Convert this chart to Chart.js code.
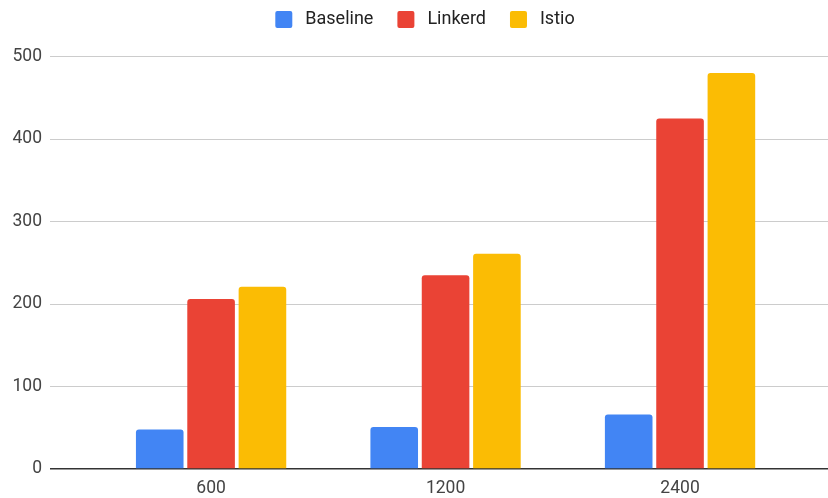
<!DOCTYPE html>
<html>
<head>
<meta charset="utf-8">
<script src="https://cdn.jsdelivr.net/npm/chart.js@4.4.0/dist/chart.umd.min.js"></script>
<style>
  html, body { margin: 0; padding: 0; background: #ffffff; }
  #wrap { width: 828px; height: 498px; position: relative; }
</style>
</head>
<body>
<div id="wrap"><canvas id="c"></canvas></div>
<script>
const categories = ['600', '1200', '2400'];
const baseline = [48, 51, 66];
const linkerd = [206, 235, 425];
const istio = [221, 261, 480];
const seriesNames = ['Baseline', 'Linkerd', 'Istio'];
const yTicks = [0, 100, 200, 300, 400, 500];

const colors = ['#4285F4', '#EA4335', '#FBBC04'];
const toPoints = arr => arr.map((v, i) => ({ x: i, y: v }));

const FONT = 'Roboto, "Noto Sans", Arial, sans-serif';

const legendShift = {
  id: 'legendShift',
  afterLayout(chart) {
    const l = chart.legend;
    if (!l) return;
    l.top -= 14.5; l.bottom -= 14.5;
    l.left += 9; l.right += 9;
  }
};

new Chart(document.getElementById('c'), {
  type: 'bar',
  plugins: [legendShift],
  data: {
    datasets: [baseline, linkerd, istio].map((arr, k) => ({
      label: seriesNames[k],
      data: toPoints(arr),
      backgroundColor: colors[k],
      borderWidth: 0,
      borderRadius: { topLeft: 3, topRight: 3, bottomLeft: 0, bottomRight: 0 },
      borderSkipped: 'bottom',
      categoryPercentage: 0.657,
      barPercentage: 0.927
    }))
  },
  options: {
    responsive: true,
    maintainAspectRatio: false,
    animation: false,
    devicePixelRatio: 1,
    layout: { padding: 0 },
    plugins: {
      tooltip: { enabled: false },
      legend: {
        position: 'top',
        align: 'center',
        labels: {
          boxWidth: 25,
          boxHeight: 25,
          padding: 20,
          color: '#222',
          font: { family: FONT, size: 18 },
          useBorderRadius: true,
          borderRadius: 6,
          generateLabels: chart => {
            const items = Chart.defaults.plugins.legend.labels.generateLabels(chart);
            return items.map(it => Object.assign(it, { strokeStyle: '#ffffff', lineWidth: 8 }));
          }
        }
      }
    },
    scales: {
      x: {
        type: 'linear',
        offset: false,
        min: -0.687,
        max: 2.631,
        afterBuildTicks: s => { s.ticks = categories.map((c, i) => ({ value: i })); },
        afterFit: s => { s.height = 29; s.paddingLeft = 0; s.paddingRight = 0; },
        ticks: {
          autoSkip: false,
          maxRotation: 0,
          padding: 9,
          color: '#444',
          font: { family: FONT, size: 17.5 },
          callback: v => categories[v]
        },
        grid: { display: false, drawTicks: false },
        border: { display: false }
      },
      y: {
        min: 0,
        max: 500,
        afterBuildTicks: s => { s.ticks = yTicks.map(v => ({ value: v })); },
        afterFit: s => { s.width = 50; s.paddingTop = 56.5; },
        ticks: {
          padding: 8,
          color: '#444',
          font: { family: FONT, size: 17.5 }
        },
        grid: {
          drawTicks: false,
          color: ctx => (ctx.tick && ctx.tick.value === 0) ? '#333333' : '#cccccc',
          lineWidth: ctx => (ctx.tick && ctx.tick.value === 0) ? 1.5 : 1
        },
        border: { display: false }
      }
    }
  }
});
</script>
</body>
</html>
